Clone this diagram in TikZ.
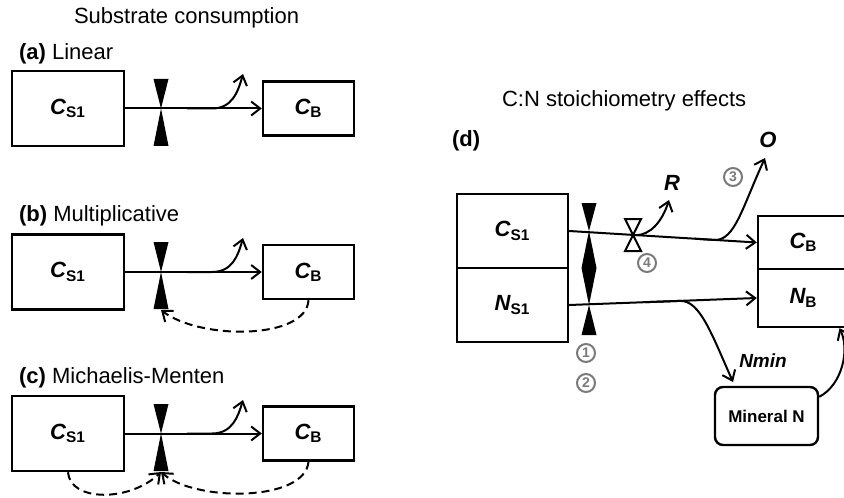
\documentclass[tikz,border=0pt]{standalone}
\usepackage{fontspec}
\setmainfont{Liberation Sans}
\usetikzlibrary{arrows.meta}
\definecolor{SCGray}{HTML}{7A7A7A}

\begin{document}
\begin{tikzpicture}[x=0.5pt,y=-0.5pt,
  box/.style={draw,line width=1.2pt,inner sep=0pt,font=\fontsize{11}{13}\selectfont\bfseries\itshape},
  flow/.style={line width=1pt,-{Straight Barb[length=4.5pt,width=7pt]}},
  fback/.style={flow,dash pattern=on 4pt off 2.5pt},
  title/.style={anchor=base west,font=\fontsize{11}{13}\selectfont},
  pool/.style={font=\fontsize{11}{13}\selectfont\bfseries\itshape},
  circnum/.style={circle,draw=SCGray,text=SCGray,line width=1pt,inner sep=0pt,minimum size=9pt,font=\fontsize{7}{8}\selectfont\bfseries}]
\path[use as bounding box] (0,0) rectangle (844,497);
\fill[white] (0,0) rectangle (844,497);
\node[title] at (67,24) {Substrate consumption};
\node[title] at (12,60) {\textbf{(a)} Linear};
\node[title] at (12,221) {\textbf{(b)} Multiplicative};
\node[title] at (12,383) {\textbf{(c)} Michaelis-Menten};
\node[title] at (495,107) {C:N stoichiometry effects};
\node[title] at (445,147) {\textbf{(d)}};
% (a)
\node[box,minimum width=56pt,minimum height=37.5pt] (cs1a) at (68,108.5) {C\textsubscript{\upshape S1}};
\node[box,minimum width=45.5pt,minimum height=27pt] (cba) at (308.5,108.5) {C\textsubscript{\upshape B}};
\draw[flow] (cs1a.east) -- (cba.west);
\fill (153.5,79) -- (168.5,79) -- (161,108.5) -- (168.5,146) -- (153.5,146) -- (161,108.5) -- cycle;
\coordinate (ka) at (187,108.5);
\coordinate (ra) at (243,74);
\draw[flow] (ka) -- (212,108.5) .. controls (232,108.5) and (238,92) .. (ra);
% (b)
\node[box,minimum width=56pt,minimum height=37.5pt] (cs1b) at (68,272) {C\textsubscript{\upshape S1}};
\node[box,minimum width=45.5pt,minimum height=27pt] (cbb) at (308.5,272) {C\textsubscript{\upshape B}};
\draw[flow] (cs1b.east) -- (cbb.west);
\fill (153.5,242) -- (168.5,242) -- (161,272) -- (168.5,309) -- (153.5,309) -- (161,272) -- cycle;
\coordinate (kb) at (187,272);
\coordinate (rb) at (243,238);
\draw[flow] (kb) -- (212,272) .. controls (232,272) and (238,256) .. (rb);
\coordinate (vb) at (161,310);
\draw[fback] (cbb.south) .. controls (306,340) and (200,340) .. (vb);
% (c)
\node[box,minimum width=56pt,minimum height=37.5pt] (cs1c) at (68,433.5) {C\textsubscript{\upshape S1}};
\node[box,minimum width=45.5pt,minimum height=27pt] (cbc) at (308.5,433.5) {C\textsubscript{\upshape B}};
\draw[flow] (cs1c.east) -- (cbc.west);
\fill (153.5,404) -- (168.5,404) -- (161,433.5) -- (168.5,471) -- (153.5,471) -- (161,433.5) -- cycle;
\coordinate (kc) at (187,433.5);
\coordinate (rc) at (243,400);
\draw[flow] (kc) -- (212,433.5) .. controls (232,433.5) and (238,417) .. (rc);
\coordinate (vc) at (161,472);
\draw[fback] (cs1c.south) .. controls (70,502) and (130,502) .. (vc);
\draw[fback] (cbc.south) .. controls (305,502) and (195,502) .. (vc);
% (d)
\node[box,minimum width=55.5pt,minimum height=37pt] (cs1d) at (512.5,231) {C\textsubscript{\upshape S1}};
\node[box,minimum width=55.5pt,minimum height=37pt] (ns1d) at (512.5,305) {N\textsubscript{\upshape S1}};
\node[box,minimum width=45.5pt,minimum height=26.5pt] (cbd) at (803.5,242.5) {C\textsubscript{\upshape B}};
\node[box,minimum width=45.5pt,minimum height=29pt] (nbd) at (803.5,298) {N\textsubscript{\upshape B}};
\node[draw,line width=1.2pt,rounded corners=4pt,minimum width=51.5pt,minimum height=29pt,font=\fontsize{8.5}{10}\selectfont\bfseries] (mn) at (766.5,416) {Mineral N};
\draw[flow] (cs1d.east) -- (cbd.west);
\draw[flow] (ns1d.east) -- (nbd.west);
\fill (581.5,203) -- (596.5,203) -- (589,231) -- (596.5,268) -- (589,305) -- (596.5,335) -- (581.5,335) -- (589,305) -- (581.5,268) -- (589,231) -- cycle;
\coordinate (kr) at (636,235.2);
\coordinate (rd) at (669,200);
\draw[flow] (kr) .. controls (650,235) and (662,222) .. (rd);
\filldraw[fill=white,line width=1pt] (625,219) -- (641,219) -- (633,235) -- (641,251) -- (625,251) -- (633,235) -- cycle;
\coordinate (ko) at (695,238.7);
\coordinate (od) at (765,158);
\draw[flow] (ko) -- (715,240) .. controls (735,240) and (742,208) .. (od);
\coordinate (kn) at (645,302.2);
\coordinate (nm) at (733,382);
\draw[flow] (kn) -- (680,300.9) .. controls (700,300) and (712,335) .. (nm);
\draw[flow] (mn.20) .. controls (842,385) and (850,350) .. (nbd.-40);
\node[pool] (rlbl) at (672,183) {R};
\node[pool] (olbl) at (768,140) {O};
\node[pool,font=\fontsize{9.5}{11}\selectfont\bfseries\itshape] (nmlbl) at (763,361) {Nmin};
\node[circnum] (n1) at (586,353) {1};
\node[circnum] (n2) at (586,383) {2};
\node[circnum] (n3) at (733,177) {3};
\node[circnum] (n4) at (647,263) {4};
\end{tikzpicture}
\end{document}
